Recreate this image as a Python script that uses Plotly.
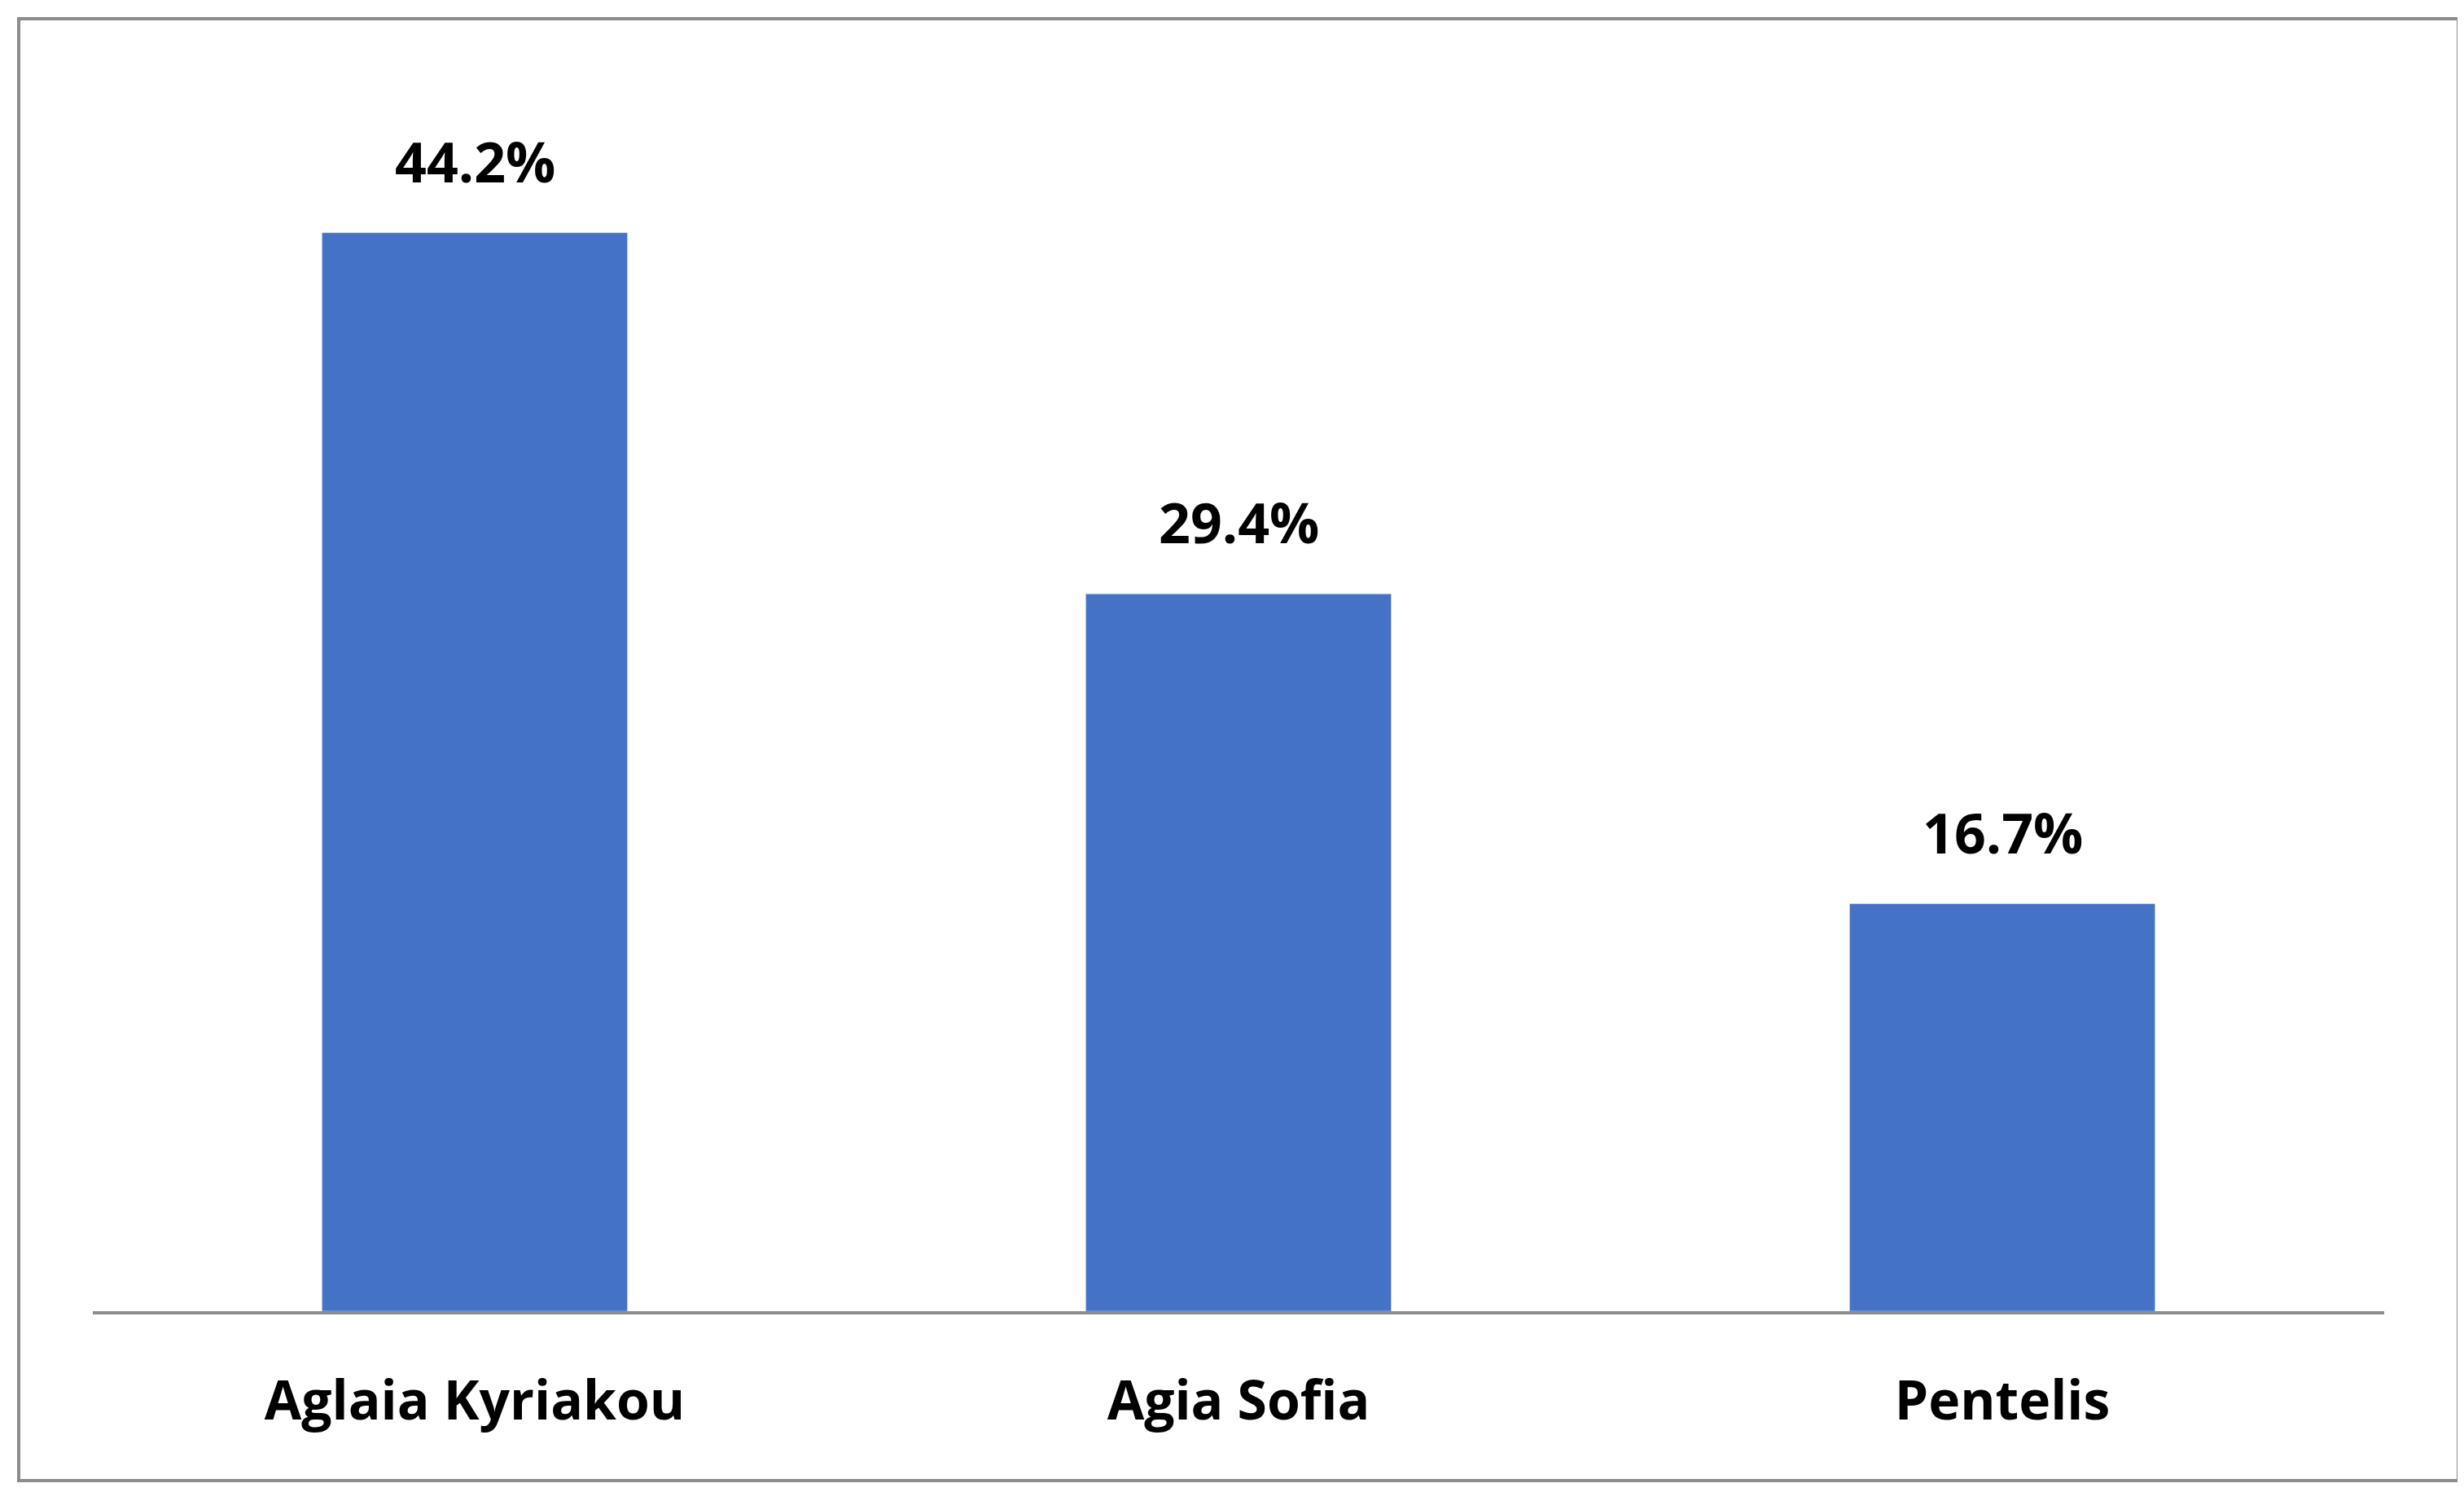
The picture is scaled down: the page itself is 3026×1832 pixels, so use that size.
import plotly.graph_objects as go

categories = ["Aglaia Kyriakou", "Agia Sofia", "Pentelis"]
values = [44.2, 29.4, 16.7]
labels = ["44.2%", "29.4%", "16.7%"]

fig = go.Figure(go.Bar(x=categories, y=values, marker_color="#4472C4", width=0.4))
for c, v, t in zip(categories, values, labels):
    fig.add_annotation(x=c, y=v, text="<b>%s</b>" % t, showarrow=False,
                       yanchor="bottom", yshift=40, font=dict(size=68, color="black"))
fig.update_layout(
    width=3026, height=1832, plot_bgcolor="white", paper_bgcolor="white",
    margin=dict(l=106, r=106, t=104, b=230),
    font=dict(family="Open Sans, Lato, sans-serif"),
    showlegend=False,
    xaxis=dict(showline=True, linecolor="#8c8c8c", linewidth=4,
               tickfont=dict(size=66, color="black"), ticks="", ticklabelstandoff=50,
               tickvals=categories, ticktext=["<b>%s</b>" % c for c in categories]),
    yaxis=dict(range=[0, 50], visible=False, showgrid=False),
    shapes=[dict(type="rect", xref="paper", yref="paper",
                 x0=-91/2814, x1=1+91/2814, y0=-(1810-1602)/1498, y1=1+(104-15)/1498,
                 line=dict(color="#8c8c8c", width=4))],
)
fig.write_html("out.html")
